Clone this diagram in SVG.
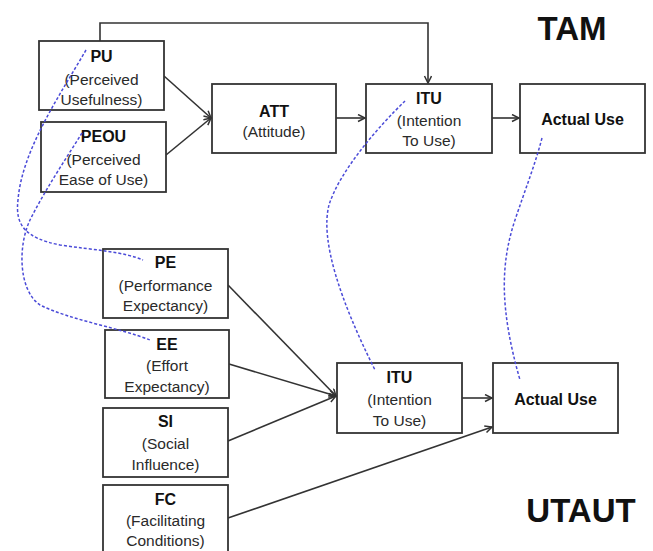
<svg xmlns="http://www.w3.org/2000/svg" width="653" height="551" viewBox="0 0 653 551">
<defs>
<style>
.box{fill:#fff;stroke:#333;stroke-width:1.8}
.t{font-family:"Liberation Sans",Arial,sans-serif;font-size:15.5px;fill:#2a2a2a;text-anchor:middle}
.b{font-weight:bold;font-size:16px;fill:#111}
.big{font-family:"Liberation Sans",Arial,sans-serif;font-weight:bold;font-size:33px;fill:#111;text-anchor:middle}
.c{fill:none;stroke:#333;stroke-width:1.6}
.d{fill:none;stroke:#4b4bd8;stroke-width:1.5;stroke-dasharray:3 2}
</style>
<marker id="ah" markerWidth="10" markerHeight="10" refX="8" refY="4" orient="auto" markerUnits="userSpaceOnUse">
<path d="M1,0.5 L8,4 L1,7.5" fill="none" stroke="#333" stroke-width="1.5"/>
</marker>
</defs>
<rect width="653" height="551" fill="#fff"/>

<g id="connectors">
<path class="c" d="M100 41 V23 H428 V83" marker-end="url(#ah)"/>
<line class="c" x1="164" y1="76" x2="211" y2="118" marker-end="url(#ah)"/>
<line class="c" x1="166" y1="155" x2="211" y2="118" marker-end="url(#ah)"/>
<line class="c" x1="336" y1="118" x2="365" y2="118" marker-end="url(#ah)"/>
<line class="c" x1="492" y1="118" x2="519" y2="118" marker-end="url(#ah)"/>
<line class="c" x1="228" y1="285" x2="336" y2="396" marker-end="url(#ah)"/>
<line class="c" x1="229" y1="364" x2="336" y2="396" marker-end="url(#ah)"/>
<line class="c" x1="228" y1="441" x2="336" y2="396" marker-end="url(#ah)"/>
<line class="c" x1="228" y1="518" x2="492" y2="427" marker-end="url(#ah)"/>
<line class="c" x1="462" y1="398" x2="492" y2="398" marker-end="url(#ah)"/>
</g>

<g id="PU"><rect class="box" x="39" y="41" width="125" height="69"/>
<text class="t b" x="101.5" y="62">PU</text><text class="t" x="101.5" y="85">(Perceived</text><text class="t" x="101.5" y="105">Usefulness)</text></g>
<g id="PEOU"><rect class="box" x="41" y="122" width="125" height="70"/>
<text class="t b" x="103.5" y="142">PEOU</text><text class="t" x="103.5" y="165">(Perceived</text><text class="t" x="103.5" y="185">Ease of Use)</text></g>
<g id="ATT"><rect class="box" x="212" y="84" width="124" height="69"/>
<text class="t b" x="274" y="117">ATT</text><text class="t" x="274" y="137">(Attitude)</text></g>
<g id="ITU_TAM"><rect class="box" x="366" y="84" width="126" height="69"/>
<text class="t b" x="429" y="104">ITU</text><text class="t" x="429" y="126">(Intention</text><text class="t" x="429" y="146">To Use)</text></g>
<g id="AU_TAM"><rect class="box" x="520" y="84" width="125" height="69"/>
<text class="t b" x="582.5" y="125">Actual Use</text></g>
<g id="TAM"><text class="big" x="572" y="40">TAM</text></g>

<g id="PE"><rect class="box" x="103" y="249" width="125" height="69"/>
<text class="t b" x="165.5" y="268">PE</text><text class="t" x="165.5" y="291">(Performance</text><text class="t" x="165.5" y="311">Expectancy)</text></g>
<g id="EE"><rect class="box" x="105" y="330" width="124" height="68"/>
<text class="t b" x="167" y="350">EE</text><text class="t" x="167" y="371">(Effort</text><text class="t" x="167" y="392">Expectancy)</text></g>
<g id="SI"><rect class="box" x="103" y="408" width="125" height="69"/>
<text class="t b" x="165.5" y="427">SI</text><text class="t" x="165.5" y="449">(Social</text><text class="t" x="165.5" y="470">Influence)</text></g>
<g id="FC"><rect class="box" x="103" y="485" width="125" height="70"/>
<text class="t b" x="165.5" y="505">FC</text><text class="t" x="165.5" y="526">(Facilitating</text><text class="t" x="165.5" y="546">Conditions)</text></g>
<g id="ITU_UTAUT"><rect class="box" x="337" y="363" width="125" height="70"/>
<text class="t b" x="399.5" y="383">ITU</text><text class="t" x="399.5" y="405">(Intention</text><text class="t" x="399.5" y="426">To Use)</text></g>
<g id="AU_UTAUT"><rect class="box" x="493" y="363" width="125" height="70"/>
<text class="t b" x="555.5" y="405">Actual Use</text></g>
<g id="UTAUT"><text class="big" x="581" y="522">UTAUT</text></g>

<g id="mapping">
<path class="d" d="M86 50 C60 95, 22 150, 18 200 C15 225, 25 238, 60 245 C95 250, 125 252, 143 260"/>
<path class="d" d="M82 133 C65 160, 45 190, 30 220 C18 245, 18 290, 40 305 C70 320, 120 328, 150 340"/>
<path class="d" d="M405 101 C380 125, 340 170, 329 205 C320 240, 340 300, 375 370"/>
<path class="d" d="M542 138 C535 165, 525 190, 515 220 C500 265, 500 310, 520 380"/>
</g>
</svg>
